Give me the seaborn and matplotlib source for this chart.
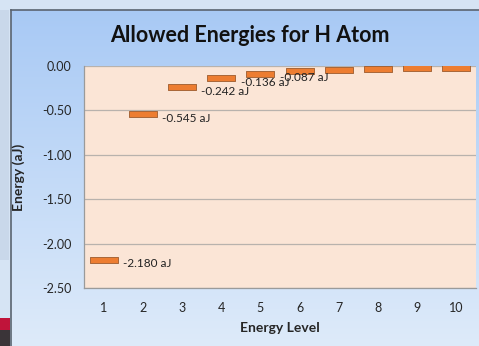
import matplotlib
matplotlib.use("Agg")
import matplotlib.pyplot as plt
import seaborn as sns
import numpy as np
import pandas as pd
from matplotlib.path import Path
from matplotlib.patches import Rectangle

# data
levels = [1, 2, 3, 4, 5, 6, 7, 8, 9, 10]
energies = [-2.180, -0.545, -0.242, -0.136, -0.087, -0.061, -0.044, -0.034, -0.027, -0.022]
labelled = [1, 2, 3, 4, 5]
y_ticks = [0.00, -0.50, -1.00, -1.50, -2.00, -2.50]

df = pd.DataFrame({"level": levels, "energy": energies})

sns.set_style("white")
plt.rcParams['font.family'] = ['Lato', 'DejaVu Sans']

fig = plt.figure(figsize=(4.79, 3.46), dpi=100)
fig.patch.set_facecolor("#d6e4f4")

# chart frame with blue gradient (darker at top)
bg = fig.add_axes([11 / 479, 0, 1 - 11 / 479, 1 - 10 / 346])
grad = np.linspace(0, 1, 256).reshape(-1, 1)
top = np.array([0.66, 0.79, 0.96])
bot = np.array([0.87, 0.92, 0.98])
img = top + (bot - top) * grad[:, :, None]
bg.imshow(img, aspect="auto", extent=[0, 1, 0, 1])
bg.set_xlim(0, 1)
bg.set_ylim(0, 1)
bg.set_xticks([])
bg.set_yticks([])
for s in ["right", "bottom"]:
    bg.spines[s].set_visible(False)
for s in ["top", "left"]:
    bg.spines[s].set_color("#5a6470")
    bg.spines[s].set_linewidth(1.2)

# bits of the slide behind on the left
fig.patches.append(Rectangle((0, 86 / 346), 9 / 479, 250 / 346, transform=fig.transFigure,
                             facecolor="#c9d8ea", edgecolor="none", zorder=0.5))
fig.patches.append(Rectangle((0, 16 / 346), 10 / 479, 12 / 346, transform=fig.transFigure,
                             facecolor="#c0143a", edgecolor="none", zorder=0.6))
fig.patches.append(Rectangle((0, 0), 10 / 479, 16 / 346, transform=fig.transFigure,
                             facecolor="#3a3438", edgecolor="none", zorder=0.6))

ax = fig.add_axes([84 / 479, 1 - 288 / 346, 392 / 479, 222 / 346])
ax.set_facecolor("#fbe5d6")

w = 1.0
h = 0.2
dash = Path([(-w, -h), (w, -h), (w, h), (-w, h), (-w, -h)],
            [Path.MOVETO, Path.LINETO, Path.LINETO, Path.LINETO, Path.CLOSEPOLY])
sns.scatterplot(data=df, x="level", y="energy", marker=dash, s=380,
                color="#ed7d31", edgecolor="#9c5a2c", linewidth=0.6, ax=ax, zorder=3)

for lv, e in zip(levels, energies):
    if lv in labelled:
        ax.annotate(f"{e:.3f} aJ", (lv, e), xytext=(14, -3), textcoords="offset points",
                    ha="left", va="center", fontsize=8.5, color="#222222", zorder=4)

ax.set_xlim(0.5, 10.5)
ax.set_ylim(-2.5, 0.0)
ax.set_yticks(y_ticks)
ax.set_yticklabels([f"{v:.2f}" for v in y_ticks], fontsize=9)
ax.yaxis.grid(True, color="#b8b2ad", linewidth=0.9)
ax.set_axisbelow(True)

ax.set_xticks(np.arange(0.5, 11.0, 1.0))
ax.set_xticklabels([])
ax.set_xticks(levels, minor=True)
ax.set_xticklabels([str(v) for v in levels], minor=True, fontsize=9)
ax.tick_params(axis="x", which="major", length=4, color="#9a9a9a", direction="out")
ax.tick_params(axis="x", which="minor", length=0, pad=10)
ax.tick_params(axis="y", length=4, color="#9a9a9a", direction="out", pad=5)

for s in ["top", "right"]:
    ax.spines[s].set_visible(False)
for s in ["left", "bottom"]:
    ax.spines[s].set_color("#9a9a9a")
    ax.spines[s].set_linewidth(0.9)

ax.set_xlabel("Energy Level", fontsize=10, fontweight="bold", labelpad=6)
ax.set_ylabel("Energy (aJ)", fontsize=10, fontweight="bold", labelpad=12)
fig.text(250 / 479, 1 - 35 / 346, "Allowed Energies for H Atom", ha="center", va="center",
         fontsize=15.5, fontweight="bold", color="#111111")

fig.savefig("out.png", dpi=100, facecolor=fig.get_facecolor())
